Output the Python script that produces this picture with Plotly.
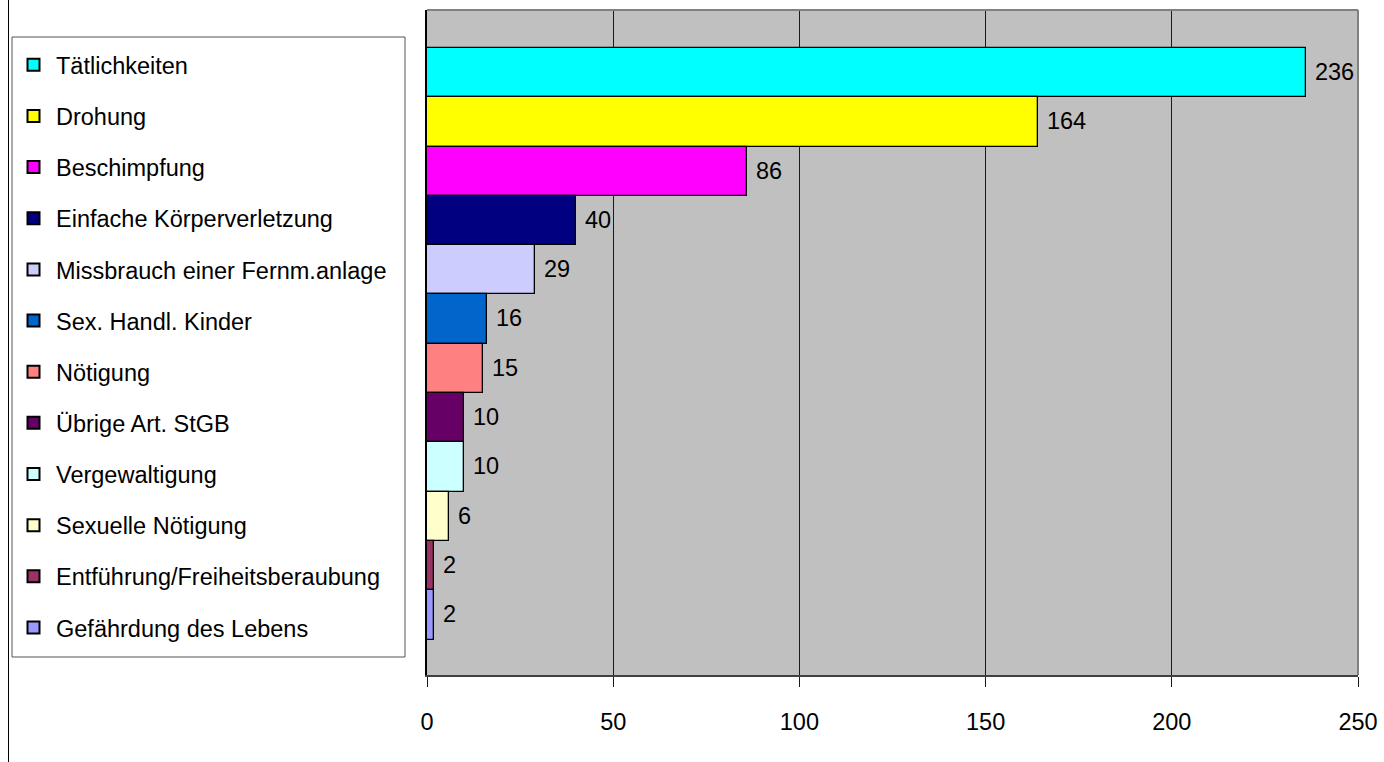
import plotly.graph_objects as go

categories = ["Tätlichkeiten", "Drohung", "Beschimpfung", "Einfache Körperverletzung",
              "Missbrauch einer Fernm.anlage", "Sex. Handl. Kinder", "Nötigung",
              "Übrige Art. StGB", "Vergewaltigung", "Sexuelle Nötigung",
              "Entführung/Freiheitsberaubung", "Gefährdung des Lebens"]
values = [236, 164, 86, 40, 29, 16, 15, 10, 10, 6, 2, 2]
colors = ["#00FFFF", "#FFFF00", "#FF00FF", "#000080", "#CCCCFF", "#0066CC",
          "#FF8080", "#660066", "#CCFFFF", "#FFFFCC", "#993366", "#9999FF"]
x_ticks = [0, 50, 100, 150, 200, 250]

FONT = "Liberation Sans, Arial, sans-serif"
FS = 23.5

fig = go.Figure()
for i, (c, v, col) in enumerate(zip(categories, values, colors)):
    fig.add_trace(go.Bar(
        y=[c], x=[v], name=c, orientation="h",
        marker=dict(color=col, line=dict(color="#000000", width=1.3)),
        text=[v], texttemplate=" %{x}", textposition="outside",
        textfont=dict(family=FONT, size=FS, color="#000000"),
        cliponaxis=False, legendgroup=c,
    ))

W, H = 1384, 762
ml, mr, mt, mb = 427, 26, 10, 87
pw, ph = W - ml - mr, H - mt - mb


def px_x(x):
    return (x - ml) / pw


def px_y(y):
    return (H - mb - y) / ph


fig.update_layout(
    width=W, height=H,
    margin=dict(l=ml, r=mr, t=mt, b=mb, pad=0, autoexpand=False),
    paper_bgcolor="#FFFFFF", plot_bgcolor="#C0C0C0",
    barmode="overlay", bargap=0,
    font=dict(family=FONT, size=FS, color="#000000"),
    showlegend=True,
    legend=dict(
        x=px_x(11), y=px_y(43), xanchor="left", yanchor="top",
        borderwidth=0, bgcolor="rgba(0,0,0,0)",
        font=dict(family=FONT, size=FS, color="#000000"),
        traceorder="grouped", tracegroupgap=17.6, itemsizing="constant",
        itemwidth=35, itemclick=False, itemdoubleclick=False,
    ),
    xaxis=dict(
        range=[0, 250], tickvals=x_ticks, ticktext=[str(t) for t in x_ticks],
        showgrid=True, gridcolor="#1a1a1a", gridwidth=1,
        ticks="outside", ticklen=10, tickcolor="#1a1a1a", tickwidth=1,
        showline=True, linecolor="#404040", linewidth=2,
        zeroline=False, tickfont=dict(family=FONT, size=FS), ticklabelstandoff=15,
        ticklabeloverflow="allow", mirror=False,
    ),
    yaxis=dict(
        categoryorder="array", categoryarray=categories,
        range=[11.5 + 0.72, -1.27],
        showticklabels=False, ticks="", showgrid=False, zeroline=False,
        showline=True, linecolor="#000000", linewidth=2,
    ),
    shapes=[
        # legend frame
        dict(type="rect", xref="paper", yref="paper", layer="below",
             x0=px_x(12), x1=px_x(405), y0=px_y(657), y1=px_y(37),
             fillcolor="#FFFFFF", line=dict(color="#555555", width=1)),
        # page frame line on the left
        dict(type="line", xref="paper", yref="paper", x0=px_x(8.5), x1=px_x(8.5),
             y0=px_y(H), y1=px_y(0), line=dict(color="#000000", width=1)),
        dict(type="line", xref="paper", yref="paper", x0=0, x1=1, y0=1, y1=1,
             line=dict(color="#808080", width=2)),
        dict(type="line", xref="paper", yref="paper", x0=1, x1=1, y0=0, y1=1,
             line=dict(color="#808080", width=2)),
    ],
)

fig.write_html("out.html",
               config={"displayModeBar": False},
               post_script="document.body.style.margin='0';document.body.style.overflow='hidden';")
